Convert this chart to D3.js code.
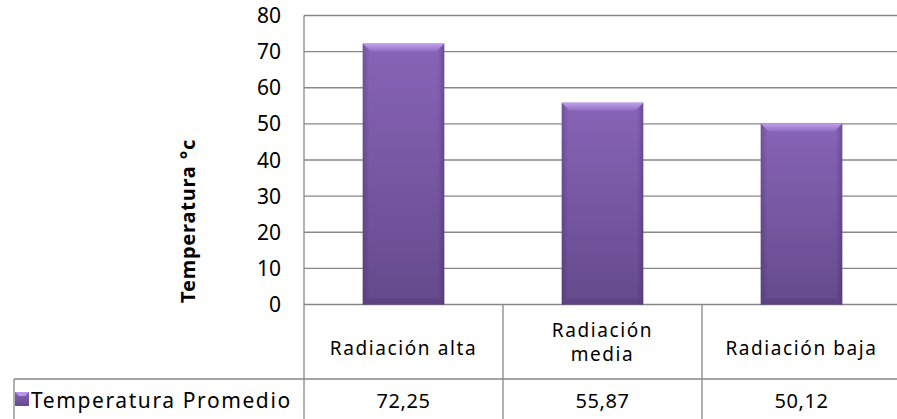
<!DOCTYPE html>
<html>
<head>
<meta charset="utf-8">
<script src="https://cdn.jsdelivr.net/npm/d3@7"></script>
<style>
  body { margin: 0; background: #fff; }
  svg text { font-family: "Noto Sans", "Open Sans", sans-serif; fill: #000; }
</style>
</head>
<body>
<div id="chart"></div>
<script>
(function () {
  /* ----------------------- Data ----------------------- */
  const categories = ["Radiación alta", "Radiación media", "Radiación baja"];
  const categoryLines = [["Radiación alta"], ["Radiación", "media"], ["Radiación baja"]];
  const values = [72.25, 55.87, 50.12];
  const valueLabels = ["72,25", "55,87", "50,12"];
  const yTicks = [0, 10, 20, 30, 40, 50, 60, 70, 80];
  const seriesName = "Temperatura Promedio";
  const yTitle = "Temperatura °c";

  /* ----------------------- Dimensions ----------------------- */
  const W = 897, H = 419;
  const plot = { left: 304, top: 15.5, bottom: 304.5, right: 901 };
  const rowLine = 379; // separator between category row and value row
  const tableLeft = 14;
  const gridColor = "#878787";

  const svg = d3.select("#chart").append("svg")
    .attr("width", W).attr("height", H);

  /* ----------------------- Scales ----------------------- */
  const x = d3.scaleBand().domain(categories).range([plot.left, plot.right]).padding(0);
  const y = d3.scaleLinear().domain([0, 80]).range([plot.bottom, plot.top]);
  const barW = x.bandwidth() * 0.41;

  /* ----------------------- Gradients ----------------------- */
  const defs = svg.append("defs");
  const gv = defs.append("linearGradient").attr("id", "barFill")
    .attr("x1", 0).attr("y1", 0).attr("x2", 0).attr("y2", 1);
  gv.append("stop").attr("offset", "0%").attr("stop-color", "#8864b8");
  gv.append("stop").attr("offset", "100%").attr("stop-color", "#654a8c");

  const gh = defs.append("linearGradient").attr("id", "barEdge")
    .attr("x1", 0).attr("y1", 0).attr("x2", 1).attr("y2", 0);
  gh.append("stop").attr("offset", "0%").attr("stop-color", "#2a1a45").attr("stop-opacity", 0.25);
  gh.append("stop").attr("offset", "8%").attr("stop-color", "#2a1a45").attr("stop-opacity", 0);
  gh.append("stop").attr("offset", "92%").attr("stop-color", "#2a1a45").attr("stop-opacity", 0);
  gh.append("stop").attr("offset", "100%").attr("stop-color", "#2a1a45").attr("stop-opacity", 0.3);

  const gt = defs.append("linearGradient").attr("id", "bevelTop")
    .attr("x1", 0).attr("y1", 0).attr("x2", 0).attr("y2", 1);
  gt.append("stop").attr("offset", "0%").attr("stop-color", "#c0a2ee");
  gt.append("stop").attr("offset", "100%").attr("stop-color", "#8f6cc0");

  /* ----------------------- Gridlines ----------------------- */
  svg.append("g")
    .selectAll("line")
    .data(yTicks)
    .join("line")
    .attr("x1", plot.left).attr("x2", plot.right)
    .attr("y1", (d) => y(d)).attr("y2", (d) => y(d))
    .attr("stroke", gridColor).attr("stroke-width", 1.3);

  // Y tick labels
  svg.append("g")
    .selectAll("text")
    .data(yTicks)
    .join("text")
    .attr("x", 281)
    .attr("y", (d) => y(d))
    .attr("dy", "0.36em")
    .attr("text-anchor", "end")
    .style("font-size", "21px")
    .text((d) => d);

  // Y axis title
  svg.append("text")
    .attr("transform", `translate(195,${(plot.top + plot.bottom) / 2 + 61}) rotate(-90)`)
    .attr("text-anchor", "middle")
    .style("font-size", "20px")
    .style("font-weight", "bold")
    .style("letter-spacing", "0.8px")
    .text(yTitle);

  /* ----------------------- Bars ----------------------- */
  const bars = svg.append("g")
    .selectAll("g")
    .data(values)
    .join("g")
    .attr("transform", (d, i) => `translate(${x(categories[i]) + (x.bandwidth() - barW) / 2},0)`);

  bars.append("rect")
    .attr("x", 0).attr("width", barW)
    .attr("y", (d) => y(d)).attr("height", (d) => y(0) - y(d))
    .attr("fill", "url(#barFill)");

  bars.append("rect")
    .attr("x", 0).attr("width", barW)
    .attr("y", (d) => y(d)).attr("height", (d) => y(0) - y(d))
    .attr("fill", "url(#barEdge)");

  // top bevel
  bars.append("path")
    .attr("d", (d) => {
      const t = y(d), b = 8;
      return `M0,${t} L${barW},${t} L${barW - b},${t + b} L${b},${t + b} Z`;
    })
    .attr("fill", "url(#bevelTop)");

  // bottom shade
  bars.append("path")
    .attr("d", () => {
      const t = y(0), b = 6;
      return `M0,${t} L${barW},${t} L${barW - b},${t - b} L${b},${t - b} Z`;
    })
    .attr("fill", "#5a407e").attr("opacity", 0.7);

  /* ----------------------- Data table ----------------------- */
  const table = svg.append("g");
  // row separator
  table.append("line")
    .attr("x1", tableLeft).attr("x2", plot.right)
    .attr("y1", rowLine).attr("y2", rowLine)
    .attr("stroke", gridColor).attr("stroke-width", 1.3);
  // left border of legend cell
  table.append("line")
    .attr("x1", tableLeft).attr("x2", tableLeft)
    .attr("y1", rowLine).attr("y2", H)
    .attr("stroke", gridColor).attr("stroke-width", 1.3);
  // left axis line
  table.append("line")
    .attr("x1", plot.left).attr("x2", plot.left)
    .attr("y1", plot.top).attr("y2", H)
    .attr("stroke", gridColor).attr("stroke-width", 1.3);
  // column separators
  table.append("g")
    .selectAll("line")
    .data(categories.slice(1))
    .join("line")
    .attr("x1", (d) => x(d)).attr("x2", (d) => x(d))
    .attr("y1", plot.bottom).attr("y2", H)
    .attr("stroke", gridColor).attr("stroke-width", 1.3);

  // category labels
  const catText = table.append("g")
    .selectAll("text")
    .data(categories)
    .join("text")
    .attr("text-anchor", "middle")
    .style("font-size", "19px")
    .style("letter-spacing", "1.6px")
    .attr("x", (d) => x(d) + x.bandwidth() / 2)
    .attr("y", (d, i) => (categoryLines[i].length > 1 ? 337 : 355));

  catText.selectAll("tspan")
    .data((d, i) => categoryLines[i])
    .join("tspan")
    .attr("x", function () { return this.parentNode.getAttribute("x"); })
    .attr("dy", (d, j) => (j === 0 ? 0 : 24))
    .text((d) => d);

  // value labels
  table.append("g")
    .selectAll("text")
    .data(valueLabels)
    .join("text")
    .attr("text-anchor", "middle")
    .style("font-size", "20px")
    .style("letter-spacing", "0.6px")
    .attr("x", (d, i) => x(categories[i]) + x.bandwidth() / 2)
    .attr("y", 408)
    .text((d) => d);

  // legend key + series name
  table.append("rect")
    .attr("x", 15).attr("y", 392).attr("width", 14).attr("height", 14)
    .attr("fill", "url(#barFill)");
  table.append("path")
    .attr("d", "M15,392 L29,392 L25,396 L19,396 Z")
    .attr("fill", "#b898e6");
  table.append("text")
    .attr("x", 31).attr("y", 408)
    .style("font-size", "21px")
    .style("letter-spacing", "1.6px")
    .text(seriesName);
})();
</script>
</body>
</html>
